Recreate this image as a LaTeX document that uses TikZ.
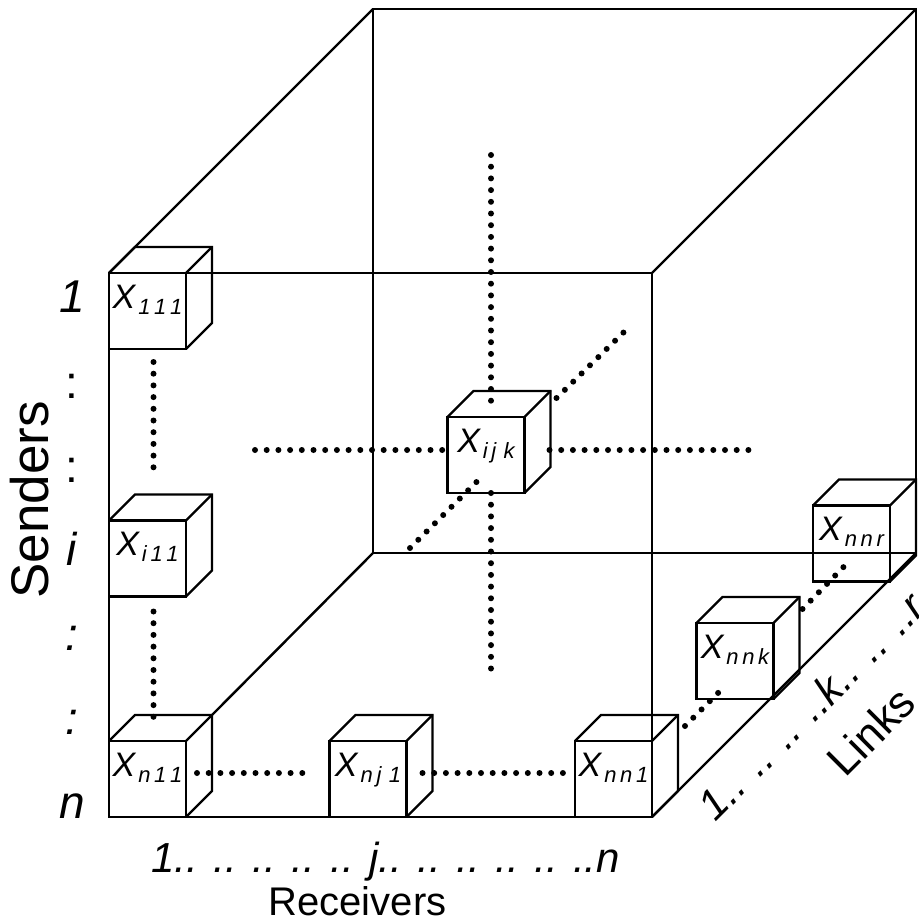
\documentclass[tikz,border=0pt]{standalone}
\usepackage{fontspec}
\setmainfont{Liberation Sans}

\newcommand{\cubeLabel}[1]{{\fontsize{34}{34}\selectfont\itshape X}\hspace{3pt}{\fontsize{22}{22}\selectfont\itshape\raisebox{-6pt}{#1}}}

\begin{document}
\begin{tikzpicture}[
    x=1pt, y=-1pt,
    cubeFace/.style={draw, line width=2.4pt, minimum width=77pt, minimum height=76pt,
        inner sep=0pt, outer sep=0pt, text height=14pt, text depth=20pt},
    frameLine/.style={line width=2.4pt},
    dotLine/.style={line width=6pt, line cap=round, dash pattern=on 0pt off 11.7pt},
    indexText/.style={font=\fontsize{46}{46}\selectfont\itshape},
    rowText/.style={font=\fontsize{42}{42}\selectfont\itshape},
    titleText/.style={font=\fontsize{40}{40}\selectfont}
]
    \useasboundingbox (0,0) rectangle (918,920);

    % 大立方体
    \draw[frameLine] (109,273) rectangle (652,817);
    \draw[frameLine] (373,9) rectangle (916,553);
    \draw[frameLine] (109,273) -- (373,9);
    \draw[frameLine] (652,273) -- (916,9);
    \draw[frameLine] (652,817) -- (916,553);

    % 小立方体
    \node[cubeFace] (x111) at (147.5,311) {\cubeLabel{1\,1\,1}};
    \node[cubeFace] (xi11) at (147.5,558.5) {\cubeLabel{i\,1\,1}};
    \node[cubeFace] (xn11) at (147.5,779) {\cubeLabel{n\,1\,1}};
    \node[cubeFace] (xnj1) at (368,779) {\cubeLabel{n\,j\,\,1}};
    \node[cubeFace] (xnn1) at (613.5,779) {\cubeLabel{n\,n\,1}};
    \node[cubeFace] (xnnk) at (735,661) {\cubeLabel{n\,n\,k}};
    \node[cubeFace] (xnnr) at (851.5,543.5) {\cubeLabel{n\,n\,r}};
    \node[cubeFace] (xijk) at (486,455) {\cubeLabel{i\,j\,\,k}};
    \foreach \c in {x111,xi11,xn11,xnj1,xnn1,xnnk,xnnr,xijk} {
        \draw[frameLine] (\c.north west) -- ++(26,-26) -- ++(77,0) -- ++(0,76) -- (\c.south east);
        \draw[frameLine] (\c.north east) -- ++(26,-26);
    }
    \draw[frameLine] ([shift={(26,-26)}]xn11.north east) -- (373,553);

    % 点线
    \coordinate (ijkTop) at (491,155);
    \coordinate (ijkBottom) at (491,669);
    \coordinate (ijkLeft) at (255,450);
    \coordinate (ijkRight) at (760,450);
    \coordinate (ijkLow) at (410,548);
    \coordinate (ijkHigh) at (624,332);
    \draw[dotLine] ([shift={(6,13)}]x111.south) -- ([shift={(6,-43)}]xi11.north);
    \draw[dotLine] ([shift={(6,15)}]xi11.south) -- ([shift={(6,-13)}]xn11.north);
    \draw[dotLine] ([shift={(11,-6)}]xn11.east) -- ([shift={(-16,-6)}]xnj1.west);
    \draw[dotLine] ([shift={(16,-6)}]xnj1.east) -- ([shift={(-11,-6)}]xnn1.west);
    \draw[dotLine] ([shift={(33,-53)}]xnn1.east) -- ([shift={(-9,-14)}]xnnk.south);
    \draw[dotLine] ([shift={(29,-52)}]xnnk.east) -- ([shift={(-7.5,-15)}]xnnr.south);
    \draw[dotLine] (ijkTop) -- ([shift={(5,-15)}]xijk.north);
    \draw[dotLine] ([shift={(5,0)}]xijk.south) -- (ijkBottom);
    \draw[dotLine] (ijkLeft) -- ([shift={(0,-5)}]xijk.west);
    \draw[dotLine] ([shift={(25,-5)}]xijk.east) -- (ijkRight);
    \draw[dotLine] (ijkLow) -- ([shift={(31,-13)}]xijk.south west);
    \draw[dotLine] ([shift={(32,-19)}]xijk.north east) -- (ijkHigh);

    % 标注
    \node[indexText] (s1) at (72,297) {1};
    \node[indexText, font=\fontsize{46}{46}\selectfont] (sc1) at (72,386) {:};
    \node[indexText, font=\fontsize{46}{46}\selectfont] (sc2) at (72,470) {:};
    \node[indexText] (si) at (72,549) {i};
    \node[indexText] (sc3) at (72,638) {:};
    \node[indexText] (sc4) at (72,722) {:};
    \node[indexText] (sn) at (72,806) {n};
    \node[titleText, font=\fontsize{53}{53}\selectfont, rotate=90] (senders) at (30,500) {Senders};
    \node[rowText, anchor=base west] (rrow) at (148,872) {1.. .. .. .. .. j.. .. .. .. .. ..n};
    \node[titleText, anchor=base west] (receivers) at (265,915) {Receivers};
    \node[rowText, rotate=45] (lrow) at (811,706) {1.. .. .. ..k.. .. ..r};
    \node[titleText, font=\fontsize{44}{44}\selectfont, rotate=45] (links) at (871,731) {Links};
\end{tikzpicture}
\end{document}
